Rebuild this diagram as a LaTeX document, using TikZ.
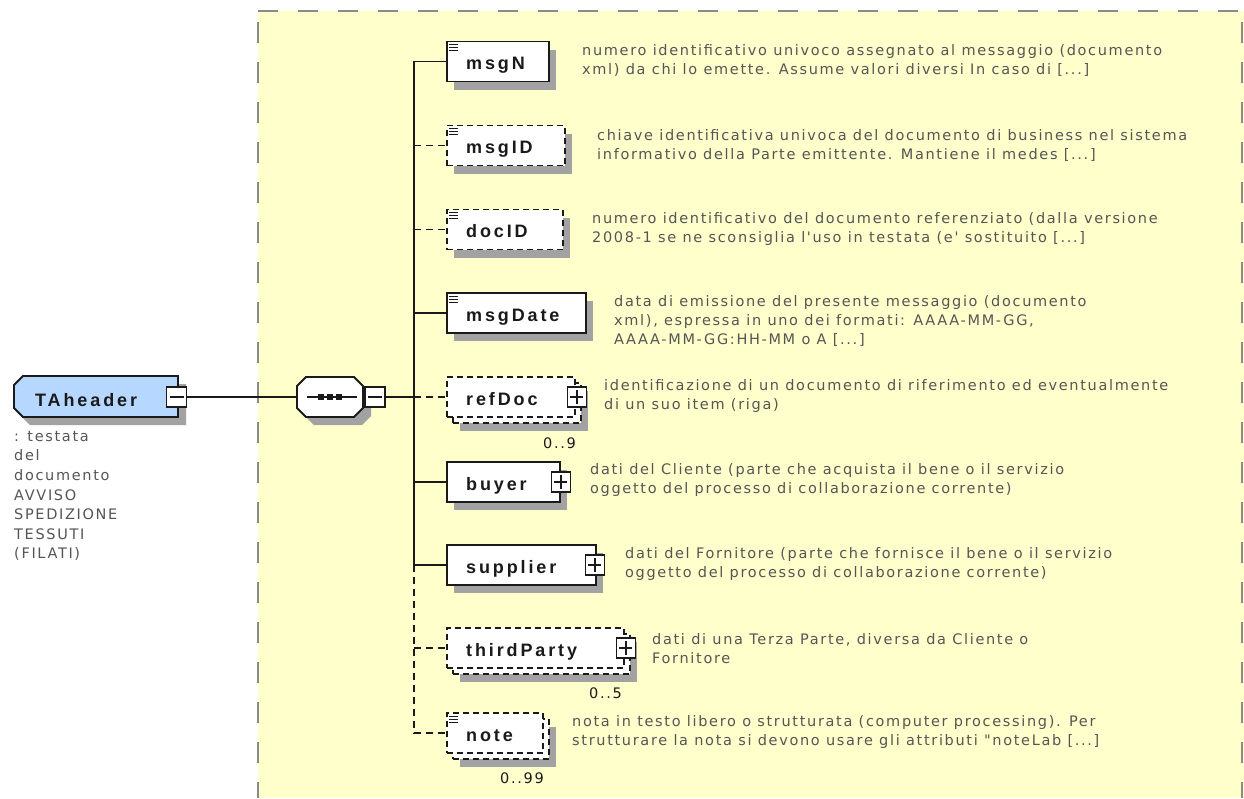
\documentclass[tikz,border=0pt]{standalone}
\usepackage{fontspec}
\setmainfont{DejaVu Sans}
\newfontfamily\descfont[LetterSpace=11.5]{DejaVu Sans}
\newfontfamily\lblfont[LetterSpace=16]{Liberation Sans}
\usetikzlibrary{shadows,calc}
\definecolor{bgyellow}{HTML}{FFFFCC}
\definecolor{bordergray}{HTML}{8A8A8A}
\definecolor{shgray}{HTML}{A2A2A2}
\definecolor{txtgray}{HTML}{555555}
\definecolor{tablue}{HTML}{B6D7FF}
\definecolor{ink}{HTML}{1A1A1A}
\tikzset{
  conn/.style={line width=1.8pt, ink},
  dconn/.style={conn, dash pattern=on 7pt off 5pt},
  boxbase/.style={draw=ink, line width=1.8pt, fill=white, minimum height=40pt, inner sep=0pt, anchor=west},
  shad/.style={drop shadow={shadow xshift=7pt, shadow yshift=-8pt, fill=shgray, opacity=1}},
  sbox/.style={boxbase, shad},
  dbox/.style={boxbase, shad, dash pattern=on 6pt off 4pt},
  dfront/.style={boxbase, dash pattern=on 6pt off 4pt},
  lbl/.style={anchor=base west, inner sep=0pt, text=ink, font=\lblfont\bfseries\fontsize{18}{20}\selectfont},
  desc/.style={anchor=west, inner sep=0pt, align=left, text=txtgray, font=\descfont\fontsize{14.5}{19}\selectfont},
  mult/.style={anchor=base east, inner sep=0pt, text=ink, font=\descfont\fontsize{14.5}{16}\selectfont},
  plusbox/.style={draw=ink, fill=white, line width=1.4pt, minimum width=19pt, minimum height=20pt, inner sep=0pt,
    path picture={\draw[line width=1.4pt, ink] ([xshift=3pt]path picture bounding box.west) -- ([xshift=-3pt]path picture bounding box.east)
      ([yshift=-3pt]path picture bounding box.north) -- ([yshift=3pt]path picture bounding box.south);}},
  minusbox/.style={draw=ink, fill=white, line width=1.4pt, minimum width=20pt, minimum height=20pt, inner sep=0pt,
    path picture={\draw[line width=1.4pt, ink] ([xshift=3pt]path picture bounding box.west) -- ([xshift=-3pt]path picture bounding box.east);}},
  icon/.style={line width=1pt, ink}
}
\begin{document}
\begin{tikzpicture}[x=1pt,y=-1pt]
\useasboundingbox (0,0) rectangle (1244,798);
% yellow content area
\fill[bgyellow] (258,11) rectangle (1244,798);
\draw[bordergray, line width=2.7pt, dash pattern=on 20pt off 20pt] (258,11) -- (1242,11);
\draw[bordergray, line width=2.7pt, dash pattern=on 21pt off 19pt] (258,22) -- (258,798);
\draw[bordergray, line width=2.7pt, dash pattern=on 21pt off 19pt] (1242,22) -- (1242,798);

% ---- TAheader element ----
\fill[shgray] (30,384) -- (186,384) -- (186,425) -- (30,425) -- (21,416) -- (21,393) -- cycle;
\draw[ink, line width=1.8pt, fill=tablue] (23,376) -- (178,376) -- (178,417) -- (23,417) -- (14,408) -- (14,385) -- cycle;
\node[lbl] (TAt) at (35,406) {TAheader};
\node[minusbox] (TAm) at (176.5,397) {};
\node[desc, anchor=north west, font=\descfont\fontsize{14.5}{19.6}\selectfont] (TAd) at (14,431) {: testata\\del\\documento\\AVVISO\\SPEDIZIONE\\TESSUTI\\(FILATI)};

% ---- sequence compositor ----
\node[minimum width=66pt, minimum height=40pt, inner sep=0pt] (seq) at (330,397) {};
\fill[shgray] (314,385) -- (362,385) -- (371,394) -- (371,416) -- (362,425) -- (314,425) -- (305,416) -- (305,394) -- cycle;
\draw[ink, line width=1.8pt, fill=white] (306,377) -- (354,377) -- (363,386) -- (363,408) -- (354,417) -- (306,417) -- (297,408) -- (297,386) -- cycle;
\draw[ink, line width=1.5pt] (307,397) -- (357,397);
\foreach \dx in {321,330,339} \fill[ink] (\dx-3,394) rectangle (\dx+3,400);
\node[minusbox] (seqm) at (375,397) {};

\draw[conn] (TAm.east) -- (seq.west);
\coordinate (trunk) at (414,397);

% ---- child elements ----
\node[sbox, minimum width=102pt] (msgN) at (446,61.5) {};
\node[lbl] (msgNt) at (466,69.5) {msgN};
\draw[icon] (449,44) -- ++(9,0) (449,47) -- ++(9,0) (449,50) -- ++(9,0);

\node[dbox, minimum width=118pt] (msgID) at (446,145.5) {};
\node[lbl] (msgIDt) at (466,153.5) {msgID};
\draw[icon] (449,128) -- ++(9,0) (449,131) -- ++(9,0) (449,134) -- ++(9,0);

\node[dbox, minimum width=116pt] (docID) at (446,229.5) {};
\node[lbl] (docIDt) at (466,237.5) {docID};
\draw[icon] (449,212) -- ++(9,0) (449,215) -- ++(9,0) (449,218) -- ++(9,0);

\node[sbox, minimum width=139pt] (msgDate) at (446,313) {};
\node[lbl] (msgDatet) at (466,321) {msgDate};
\draw[icon] (449,296) -- ++(9,0) (449,299) -- ++(9,0) (449,302) -- ++(9,0);

\node[dbox, minimum width=128pt] (refDocB) at (452,403) {};
\node[dfront, minimum width=128pt] (refDoc) at (446,397) {};
\node[lbl] (refDoct) at (466,405) {refDoc};
\node[plusbox] (refDocp) at ($(refDoc.east)+(1,0)$) {};
\node[mult] (refDocm) at (576,448) {0..9};

\node[sbox, minimum width=113pt] (buyer) at (446,482) {};
\node[lbl] (buyert) at (466,490) {buyer};
\node[plusbox] (buyerp) at ($(buyer.east)+(0,0)$) {};

\node[sbox, minimum width=149pt] (supplier) at (446,565) {};
\node[lbl] (suppliert) at (466,573) {supplier};
\node[plusbox] (supplierp) at ($(supplier.east)+(-2,0)$) {};

\node[dbox, minimum width=177pt] (thirdPartyB) at (452,654) {};
\node[dfront, minimum width=177pt] (thirdParty) at (446,648) {};
\node[lbl] (thirdPartyt) at (466,656) {thirdParty};
\node[plusbox] (thirdPartyp) at ($(thirdParty.east)+(1,0)$) {};
\node[mult] (thirdPartym) at (622,698) {0..5};

\node[dbox, minimum width=96pt] (noteB) at (452,739) {};
\node[dfront, minimum width=96pt] (note) at (446,733) {};
\node[lbl] (notet) at (466,741) {note};
\draw[icon] (449,716) -- ++(9,0) (449,719) -- ++(9,0) (449,722) -- ++(9,0);
\node[mult] (notem) at (544,783) {0..99};

% ---- connectors ----
\draw[conn] (seqm.east) -- (trunk);
\draw[conn] (msgN.west) -- (msgN.west -| trunk) -- (supplier.west -| trunk) -- (supplier.west);
\draw[conn] (msgDate.west) -- (msgDate.west -| trunk);
\draw[conn] (buyer.west) -- (buyer.west -| trunk);
\draw[dconn] (msgID.west -| trunk) -- (msgID.west);
\draw[dconn] (docID.west -| trunk) -- (docID.west);
\draw[dconn] (trunk) -- (refDoc.west);
\draw[dconn] (supplier.west -| trunk) -- (note.west -| trunk) -- (note.west);
\draw[dconn] (thirdParty.west -| trunk) -- (thirdParty.west);

% ---- descriptions ----
\node[desc] (msgNd) at (582,60) {numero identificativo univoco assegnato al messaggio (documento\\xml) da chi lo emette. Assume valori diversi In caso di [...]};
\node[desc] (msgIDd) at (597,145) {chiave identificativa univoca del documento di business nel sistema\\informativo della Parte emittente. Mantiene il medes [...]};
\node[desc] (docIDd) at (592,229) {numero identificativo del documento referenziato (dalla versione\\2008-1 se ne sconsiglia l'uso in testata (e' sostituito [...]};
\node[desc] (msgDated) at (614,321) {data di emissione del presente messaggio (documento\\xml), espressa in uno dei formati: AAAA-MM-GG,\\AAAA-MM-GG:HH-MM o A [...]};
\node[desc] (refDocd) at (604,396) {identificazione di un documento di riferimento ed eventualmente\\di un suo item (riga)};
\node[desc] (buyerd) at (590,480) {dati del Cliente (parte che acquista il bene o il servizio\\oggetto del processo di collaborazione corrente)};
\node[desc] (supplierd) at (625,564) {dati del Fornitore (parte che fornisce il bene o il servizio\\oggetto del processo di collaborazione corrente)};
\node[desc] (thirdPartyd) at (652,649) {dati di una Terza Parte, diversa da Cliente o\\Fornitore};
\node[desc] (noted) at (572,732) {nota in testo libero o strutturata (computer processing). Per\\strutturare la nota si devono usare gli attributi "noteLab [...]};
\end{tikzpicture}
\end{document}
